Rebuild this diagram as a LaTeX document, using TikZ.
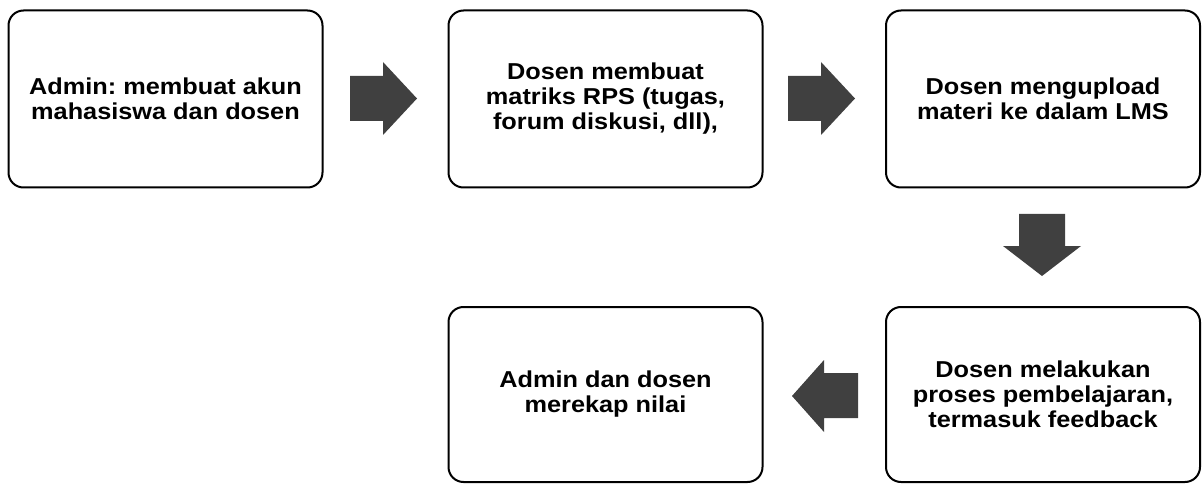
\documentclass[tikz,border=0pt]{standalone}
\usepackage{fontspec}
\newfontfamily\boxfont{Liberation Sans}[FakeStretch=1.1]
\frenchspacing
\begin{document}
\begin{tikzpicture}[x=1pt,y=-1pt,
  stepbox/.style={draw=black, line width=2pt, rounded corners=15pt, fill=white,
    minimum width=314pt, minimum height=177pt, align=center,
    font=\boxfont\bfseries\fontsize{23}{25}\selectfont, inner sep=0pt},
  blockarrow/.style={fill=arrowgray, draw=none}]
\definecolor{arrowgray}{HTML}{404040}
\useasboundingbox (0,0) rectangle (1203,484);
\node[stepbox] (b1) at (165.5,99) {Admin: membuat akun\\mahasiswa dan dosen};
\node[stepbox] (b2) at (605.5,99) {Dosen membuat\\matriks RPS (tugas,\\forum diskusi, dll),};
\node[stepbox] (b3) at (1043,99) {Dosen mengupload\\materi ke dalam LMS};
\node[stepbox, minimum height=175pt] (b4) at (1043,394.5) {Dosen melakukan\\proses pembelajaran,\\termasuk feedback};
\node[stepbox, minimum height=175pt] (b5) at (605.5,394.5) {Admin dan dosen\\merekap nilai};
\fill[blockarrow] (350,76) -- (383,76) -- (383,62) -- (417,98.5) -- (383,135) -- (383,121) -- (350,121) -- cycle;
\fill[blockarrow] (788,76) -- (821,76) -- (821,62) -- (855,98.5) -- (821,135) -- (821,121) -- (788,121) -- cycle;
\fill[blockarrow] (1019,214) -- (1065,214) -- (1065,246) -- (1081,246) -- (1042,276) -- (1003,246) -- (1019,246) -- cycle;
\fill[blockarrow] (858,373) -- (824,373) -- (824,360) -- (792,396) -- (824,432) -- (824,418) -- (858,418) -- cycle;
\end{tikzpicture}
\end{document}
